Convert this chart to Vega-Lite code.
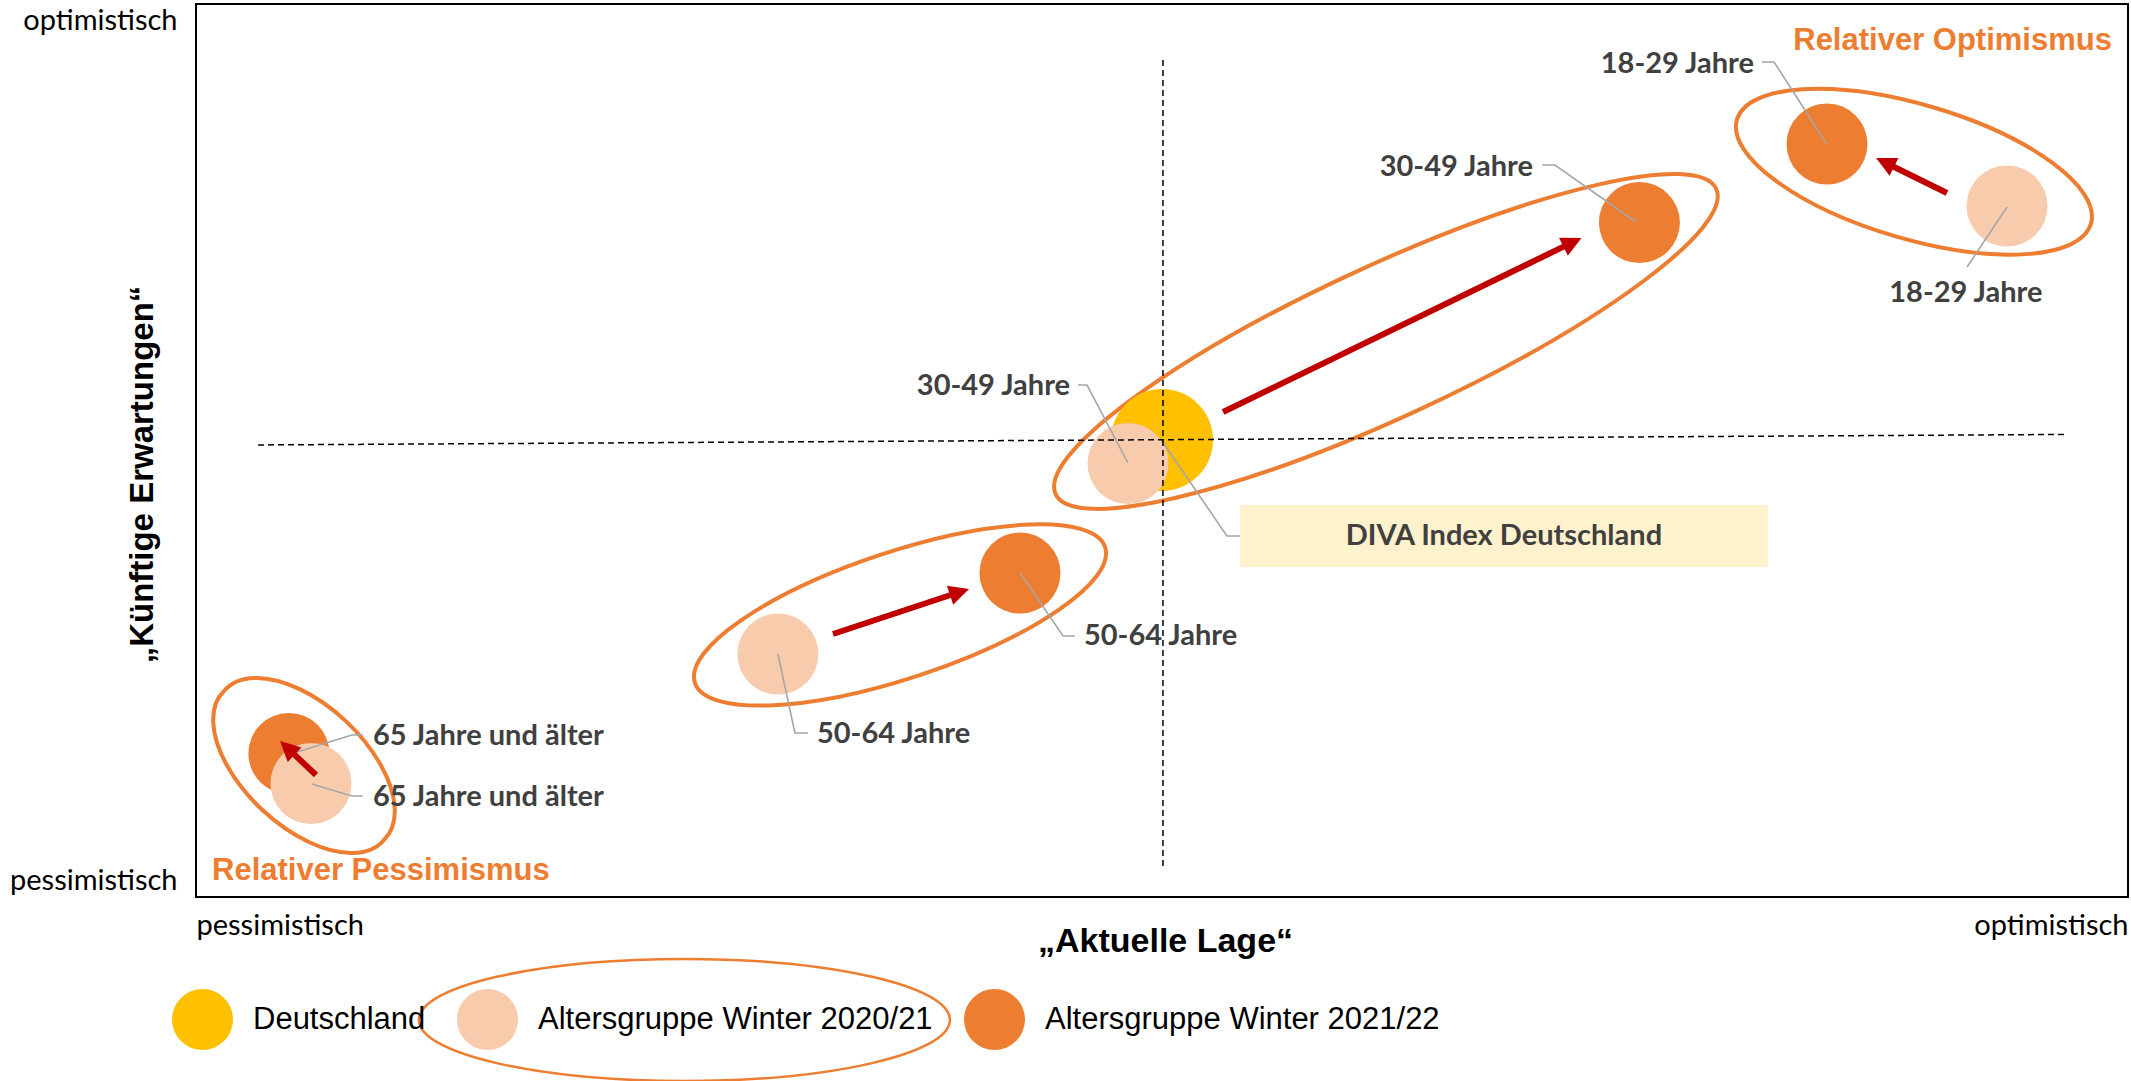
{
  "$schema": "https://vega.github.io/schema/vega-lite/v6.json",
  "width": 1932,
  "height": 893,
  "autosize": {"type": "none"},
  "padding": {"left": 196, "top": 4, "right": 3, "bottom": 184},
  "background": "white",
  "config": {
    "view": {"stroke": "#000000", "strokeWidth": 2}
  },
  "datasets": {
    "punkte": [
      {"reihe": "Deutschland", "name": "Deutschland", "lage": 50.0, "erwartung": 51.18},
      {"reihe": "Altersgruppe Winter 2021/22", "name": "18-29 Jahre", "lage": 84.42, "erwartung": 84.32},
      {"reihe": "Altersgruppe Winter 2021/22", "name": "30-49 Jahre", "lage": 74.71, "erwartung": 75.53},
      {"reihe": "Altersgruppe Winter 2021/22", "name": "50-64 Jahre", "lage": 42.65, "erwartung": 36.28},
      {"reihe": "Altersgruppe Winter 2021/22", "name": "65 Jahre und älter", "lage": 4.81, "erwartung": 16.07},
      {"reihe": "Altersgruppe Winter 2020/21", "name": "18-29 Jahre", "lage": 93.74, "erwartung": 77.38},
      {"reihe": "Altersgruppe Winter 2020/21", "name": "30-49 Jahre", "lage": 48.24, "erwartung": 48.54},
      {"reihe": "Altersgruppe Winter 2020/21", "name": "50-64 Jahre", "lage": 30.12, "erwartung": 27.21},
      {"reihe": "Altersgruppe Winter 2020/21", "name": "65 Jahre und älter", "lage": 5.95, "erwartung": 12.71}
    ],
    "ellipsen": [
      {"gruppe": "18-29 Jahre", "lage": 88.92, "erwartung": 81.22},
      {"gruppe": "30-49 Jahre", "lage": 61.59, "erwartung": 62.21},
      {"gruppe": "50-64 Jahre", "lage": 36.44, "erwartung": 31.58},
      {"gruppe": "65 Jahre und älter", "lage": 5.59, "erwartung": 14.73}
    ],
    "legendenellipse": [
      {"gruppe": "Altersgruppe Winter 2020/21", "lage": 25.28, "erwartung": -13.77}
    ],
    "pfeile": [
      {"gruppe": "18-29 Jahre", "lage": 90.63, "erwartung": 78.84, "lage_basis": 87.74, "erw_basis": 81.91, "lage_spitze": 86.96, "erw_spitze": 82.75},
      {"gruppe": "30-49 Jahre", "lage": 53.16, "erwartung": 54.31, "lage_basis": 70.92, "erw_basis": 72.97, "lage_spitze": 71.71, "erw_spitze": 73.8},
      {"gruppe": "50-64 Jahre", "lage": 32.97, "erwartung": 29.45, "lage_basis": 39.18, "erw_basis": 33.9, "lage_spitze": 40.01, "erw_spitze": 34.49},
      {"gruppe": "65 Jahre und älter", "lage": 6.21, "erwartung": 13.66, "lage_basis": 4.99, "erw_basis": 16.16, "lage_spitze": 4.35, "erw_spitze": 17.47}
    ],
    "linien": [
      {"linie": "vertikal", "ord": 1, "lage": 50.05, "erwartung": 93.73},
      {"linie": "vertikal", "ord": 2, "lage": 50.05, "erwartung": 3.47},
      {"linie": "horizontal", "ord": 1, "lage": 3.21, "erwartung": 50.62},
      {"linie": "horizontal", "ord": 2, "lage": 96.89, "erwartung": 51.8}
    ],
    "fuehrung": [
      {"id": "L1", "ord": 1, "lage": 81.06, "erwartung": 93.51},
      {"id": "L1", "ord": 2, "lage": 81.68, "erwartung": 93.51},
      {"id": "L1", "ord": 3, "lage": 84.37, "erwartung": 84.43},
      {"id": "L2", "ord": 1, "lage": 91.67, "erwartung": 70.55},
      {"id": "L2", "ord": 2, "lage": 93.74, "erwartung": 77.27},
      {"id": "L3", "ord": 1, "lage": 69.67, "erwartung": 81.97},
      {"id": "L3", "ord": 2, "lage": 70.34, "erwartung": 81.97},
      {"id": "L3", "ord": 3, "lage": 74.53, "erwartung": 75.59},
      {"id": "L4", "ord": 1, "lage": 45.65, "erwartung": 57.33},
      {"id": "L4", "ord": 2, "lage": 46.12, "erwartung": 57.33},
      {"id": "L4", "ord": 3, "lage": 48.24, "erwartung": 48.6},
      {"id": "L5", "ord": 1, "lage": 42.65, "erwartung": 36.28},
      {"id": "L5", "ord": 2, "lage": 44.88, "erwartung": 29.23},
      {"id": "L5", "ord": 3, "lage": 45.5, "erwartung": 29.23},
      {"id": "L6", "ord": 1, "lage": 30.12, "erwartung": 27.21},
      {"id": "L6", "ord": 2, "lage": 31.0, "erwartung": 18.37},
      {"id": "L6", "ord": 3, "lage": 31.68, "erwartung": 18.37},
      {"id": "L7", "ord": 1, "lage": 8.64, "erwartung": 18.14},
      {"id": "L7", "ord": 2, "lage": 8.07, "erwartung": 18.14},
      {"id": "L7", "ord": 3, "lage": 5.23, "erwartung": 16.24},
      {"id": "L8", "ord": 1, "lage": 8.64, "erwartung": 11.31},
      {"id": "L8", "ord": 2, "lage": 8.07, "erwartung": 11.31},
      {"id": "L8", "ord": 3, "lage": 6.0, "erwartung": 12.65},
      {"id": "L9", "ord": 1, "lage": 54.04, "erwartung": 40.43},
      {"id": "L9", "ord": 2, "lage": 53.36, "erwartung": 40.43},
      {"id": "L9", "ord": 3, "lage": 50.0, "erwartung": 51.06}
    ],
    "beschriftungen": [
      {"text": "18-29 Jahre", "seite": "links", "lage": 80.64, "erwartung": 92.27},
      {"text": "18-29 Jahre", "seite": "unten", "lage": 91.61, "erwartung": 66.63},
      {"text": "30-49 Jahre", "seite": "links", "lage": 69.2, "erwartung": 80.74},
      {"text": "30-49 Jahre", "seite": "links", "lage": 45.24, "erwartung": 56.22},
      {"text": "50-64 Jahre", "seite": "rechts", "lage": 45.96, "erwartung": 28.22},
      {"text": "50-64 Jahre", "seite": "rechts", "lage": 32.14, "erwartung": 17.25},
      {"text": "65 Jahre und älter", "seite": "rechts", "lage": 9.16, "erwartung": 17.02},
      {"text": "65 Jahre und älter", "seite": "rechts", "lage": 9.16, "erwartung": 10.19},
      {"text": "DIVA Index Deutschland", "seite": "unten", "lage": 67.7, "erwartung": 39.42}
    ],
    "kasten": [
      {"text": "DIVA Index Deutschland", "lage": 54.04, "lage2": 81.37, "erwartung": 43.9, "erwartung2": 36.95}
    ],
    "bereiche": [
      {"text": "Relativer Optimismus", "seite": "links", "lage": 99.17, "erwartung": 94.85},
      {"text": "Relativer Pessimismus", "seite": "rechts", "lage": 0.83, "erwartung": 1.9}
    ]
  },
  "resolve": {"scale": {"shape": "independent"}},
  "layer": [
    {
      "data": {"name": "kasten"},
      "mark": {"type": "rect", "color": "#FFF2CC"},
      "encoding": {
        "x": {
          "field": "lage", "type": "quantitative",
          "scale": {"domain": [0, 100], "nice": false, "zero": false},
          "axis": {
            "values": [0, 100],
            "labelExpr": "datum.value < 50 ? 'pessimistisch' : 'optimistisch'",
            "labelFlush": true, "ticks": false, "tickSize": 0, "domain": false, "grid": false,
            "labelPadding": 37, "labelBaseline": "alphabetic", "labelFont": "Lato", "labelFontSize": 29,
            "labelColor": "#000000", "labelOverlap": false,
            "title": "„Aktuelle Lage“", "titleFont": "Liberation Sans, Arial, sans-serif", "titleFontWeight": "bold",
            "titleFontSize": 34, "titleColor": "#000000", "titleX": 969, "titleY": 54,
            "titleBaseline": "alphabetic", "titleAlign": "center"
          }
        },
        "x2": {"field": "lage2"},
        "y": {
          "field": "erwartung", "type": "quantitative",
          "scale": {"domain": [0, 100], "nice": false, "zero": false},
          "axis": {
            "values": [1.9, 98.2],
            "labelExpr": "datum.value > 50 ? 'optimistisch' : 'pessimistisch'",
            "labelFlush": false, "ticks": false, "tickSize": 0, "domain": false, "grid": false,
            "labelPadding": 19, "labelBaseline": "middle", "labelFont": "Lato", "labelFontSize": 29,
            "labelColor": "#000000", "labelOverlap": false,
            "title": "„Künftige Erwartungen“", "titleFont": "Liberation Sans, Arial, sans-serif", "titleFontWeight": "bold",
            "titleFontSize": 33, "titleColor": "#000000", "titleAngle": -90, "titleX": -44, "titleY": 470,
            "titleBaseline": "alphabetic", "titleAlign": "center"
          }
        },
        "y2": {"field": "erwartung2"}
      }
    },
    {
      "data": {"name": "ellipsen"},
      "mark": {"type": "point", "filled": false, "stroke": "#ED7D31", "strokeWidth": 4, "opacity": 1, "size": 4},
      "encoding": {
        "x": {"field": "lage", "type": "quantitative", "scale": {"domain": [0, 100]}},
        "y": {"field": "erwartung", "type": "quantitative", "scale": {"domain": [0, 100]}},
        "shape": {
          "field": "gruppe", "type": "nominal", "legend": null,
          "scale": {
            "domain": ["18-29 Jahre", "30-49 Jahre", "50-64 Jahre", "65 Jahre und älter"],
            "range": [
              "M-177,-52.1A184.5,67.2,16.4,1,1,177,52.1A184.5,67.2,16.4,1,1,-177,-52.1Z",
              "M-330.3,152.6A363.8,75.8,-24.8,1,1,330.3,-152.6A363.8,75.8,-24.8,1,1,-330.3,152.6Z",
              "M-205.1,67.8A216,63.3,-18.3,1,1,205.1,-67.8A216,63.3,-18.3,1,1,-205.1,67.8Z",
              "M-79.9,-74.5A109.3,59.1,43,1,1,79.9,74.5A109.3,59.1,43,1,1,-79.9,-74.5Z"
            ]
          }
        }
      }
    },
    {
      "data": {"name": "legendenellipse"},
      "mark": {"type": "point", "filled": false, "stroke": "#ED7D31", "strokeWidth": 2.5, "opacity": 1, "size": 4,
               "shape": "M-265.5,0A265.5,61,0,1,1,265.5,0A265.5,61,0,1,1,-265.5,0Z"},
      "encoding": {
        "x": {"field": "lage", "type": "quantitative", "scale": {"domain": [0, 100]}},
        "y": {"field": "erwartung", "type": "quantitative", "scale": {"domain": [0, 100]}}
      }
    },
    {
      "data": {"name": "punkte"},
      "transform": [{"filter": "datum.reihe === 'Deutschland'"}],
      "mark": {"type": "point", "filled": true, "shape": "circle", "size": 10404, "opacity": 1, "strokeWidth": 0},
      "encoding": {
        "x": {"field": "lage", "type": "quantitative", "scale": {"domain": [0, 100]}},
        "y": {"field": "erwartung", "type": "quantitative", "scale": {"domain": [0, 100]}},
        "color": {
          "field": "reihe", "type": "nominal",
          "scale": {"domain": ["Deutschland", "Altersgruppe Winter 2020/21", "Altersgruppe Winter 2021/22"],
                    "range": ["#FFC000", "#F8CBAD", "#ED7D31"]},
          "legend": {
            "orient": "none", "legendX": -24, "legendY": 985, "direction": "horizontal", "title": null,
            "symbolType": "circle", "symbolSize": 3721, "symbolStrokeWidth": 0, "symbolOpacity": 1,
            "labelFont": "Liberation Sans, Arial, sans-serif", "labelFontSize": 31, "labelColor": "#000000",
            "labelOffset": 20, "columnPadding": 31, "padding": 0, "labelLimit": 700
          }
        }
      }
    },
    {
      "data": {"name": "punkte"},
      "transform": [{"filter": "datum.reihe !== 'Deutschland'"}],
      "mark": {"type": "point", "filled": true, "shape": "circle", "size": 6561, "opacity": 1, "strokeWidth": 0},
      "encoding": {
        "x": {"field": "lage", "type": "quantitative", "scale": {"domain": [0, 100]}},
        "y": {"field": "erwartung", "type": "quantitative", "scale": {"domain": [0, 100]}},
        "color": {
          "field": "reihe", "type": "nominal",
          "scale": {"domain": ["Deutschland", "Altersgruppe Winter 2020/21", "Altersgruppe Winter 2021/22"],
                    "range": ["#FFC000", "#F8CBAD", "#ED7D31"]}
        }
      }
    },
    {
      "data": {"name": "fuehrung"},
      "mark": {"type": "line", "color": "#A6A6A6", "strokeWidth": 1.6},
      "encoding": {
        "x": {"field": "lage", "type": "quantitative", "scale": {"domain": [0, 100]}},
        "y": {"field": "erwartung", "type": "quantitative", "scale": {"domain": [0, 100]}},
        "detail": {"field": "id", "type": "nominal"},
        "order": {"field": "ord", "type": "quantitative"}
      }
    },
    {
      "data": {"name": "linien"},
      "mark": {"type": "line", "color": "#000000", "strokeWidth": 1.5, "strokeDash": [6, 4]},
      "encoding": {
        "x": {"field": "lage", "type": "quantitative", "scale": {"domain": [0, 100]}},
        "y": {"field": "erwartung", "type": "quantitative", "scale": {"domain": [0, 100]}},
        "detail": {"field": "linie", "type": "nominal"},
        "order": {"field": "ord", "type": "quantitative"}
      }
    },
    {
      "data": {"name": "pfeile"},
      "mark": {"type": "rule", "color": "#C00000", "strokeWidth": 6, "strokeCap": "butt"},
      "encoding": {
        "x": {"field": "lage", "type": "quantitative", "scale": {"domain": [0, 100]}},
        "y": {"field": "erwartung", "type": "quantitative", "scale": {"domain": [0, 100]}},
        "x2": {"field": "lage_basis"},
        "y2": {"field": "erw_basis"}
      }
    },
    {
      "data": {"name": "pfeile"},
      "mark": {"type": "point", "filled": true, "color": "#C00000", "opacity": 1, "size": 4, "strokeWidth": 0},
      "encoding": {
        "x": {"field": "lage_spitze", "type": "quantitative", "scale": {"domain": [0, 100]}},
        "y": {"field": "erw_spitze", "type": "quantitative", "scale": {"domain": [0, 100]}},
        "shape": {
          "field": "gruppe", "type": "nominal", "legend": null,
          "scale": {
            "domain": ["18-29 Jahre", "30-49 Jahre", "50-64 Jahre", "65 Jahre und älter"],
            "range": [
              "M0,0L22.4,-0.1L13.5,17.8Z",
              "M0,0L-13.6,17.7L-22.4,-0.3Z",
              "M0,0L-15.8,15.8L-22.1,-3.2Z",
              "M0,0L21.4,6.5L7.7,21Z"
            ]
          }
        }
      }
    },
    {
      "data": {"name": "beschriftungen"},
      "transform": [{"filter": "datum.seite === 'links'"}],
      "mark": {"type": "text", "align": "right", "baseline": "alphabetic", "font": "Lato", "fontWeight": "bold", "fontSize": 29, "color": "#404040"},
      "encoding": {
        "x": {"field": "lage", "type": "quantitative", "scale": {"domain": [0, 100]}},
        "y": {"field": "erwartung", "type": "quantitative", "scale": {"domain": [0, 100]}},
        "text": {"field": "text"}
      }
    },
    {
      "data": {"name": "beschriftungen"},
      "transform": [{"filter": "datum.seite === 'rechts'"}],
      "mark": {"type": "text", "align": "left", "baseline": "alphabetic", "font": "Lato", "fontWeight": "bold", "fontSize": 29, "color": "#404040"},
      "encoding": {
        "x": {"field": "lage", "type": "quantitative", "scale": {"domain": [0, 100]}},
        "y": {"field": "erwartung", "type": "quantitative", "scale": {"domain": [0, 100]}},
        "text": {"field": "text"}
      }
    },
    {
      "data": {"name": "beschriftungen"},
      "transform": [{"filter": "datum.seite === 'unten'"}],
      "mark": {"type": "text", "align": "center", "baseline": "alphabetic", "font": "Lato", "fontWeight": "bold", "fontSize": 29, "color": "#404040"},
      "encoding": {
        "x": {"field": "lage", "type": "quantitative", "scale": {"domain": [0, 100]}},
        "y": {"field": "erwartung", "type": "quantitative", "scale": {"domain": [0, 100]}},
        "text": {"field": "text"}
      }
    },
    {
      "data": {"name": "bereiche"},
      "transform": [{"filter": "datum.seite === 'links'"}],
      "mark": {"type": "text", "align": "right", "baseline": "alphabetic", "font": "Liberation Sans, Arial, sans-serif", "fontWeight": "bold", "fontSize": 31, "color": "#ED7D31"},
      "encoding": {
        "x": {"field": "lage", "type": "quantitative", "scale": {"domain": [0, 100]}},
        "y": {"field": "erwartung", "type": "quantitative", "scale": {"domain": [0, 100]}},
        "text": {"field": "text"}
      }
    },
    {
      "data": {"name": "bereiche"},
      "transform": [{"filter": "datum.seite === 'rechts'"}],
      "mark": {"type": "text", "align": "left", "baseline": "alphabetic", "font": "Liberation Sans, Arial, sans-serif", "fontWeight": "bold", "fontSize": 31, "color": "#ED7D31"},
      "encoding": {
        "x": {"field": "lage", "type": "quantitative", "scale": {"domain": [0, 100]}},
        "y": {"field": "erwartung", "type": "quantitative", "scale": {"domain": [0, 100]}},
        "text": {"field": "text"}
      }
    }
  ]
}
